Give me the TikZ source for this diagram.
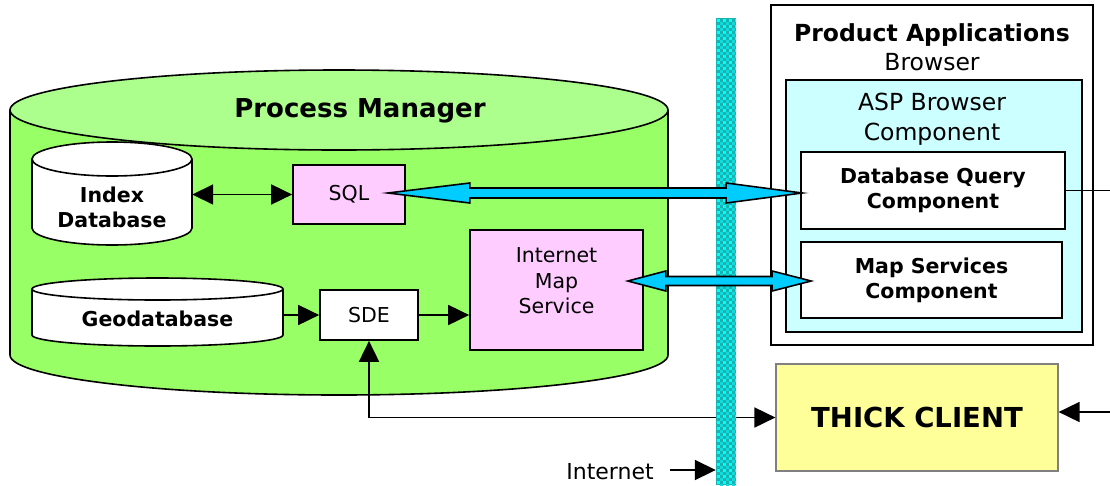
\documentclass[tikz,border=0pt]{standalone}
\usepackage{fontspec}
\setmainfont{DejaVu Sans}
\usetikzlibrary{calc,arrows.meta}
\definecolor{bodyg}{RGB}{153,255,102}
\definecolor{topg}{RGB}{172,255,140}
\definecolor{pinkbox}{RGB}{255,204,255}
\definecolor{aspcyan}{RGB}{204,255,255}
\definecolor{thickyel}{RGB}{255,255,153}
\definecolor{fatcyan}{RGB}{0,204,255}
\definecolor{fwbase}{RGB}{0,255,255}
\definecolor{fwdots}{RGB}{30,175,175}
\definecolor{thickborder}{RGB}{128,128,128}
\tikzset{
  outl/.style={draw=black,line width=1.7pt},
  box/.style={outl,rectangle,inner sep=0pt,align=center},
  arr/.style={line width=1.8pt,-{Triangle[length=21pt,width=20pt]}},
  arrboth/.style={line width=1.8pt,{Triangle[length=21pt,width=20pt]}-{Triangle[length=21pt,width=20pt]}},
  fat/.style={draw=black,line width=1.6pt,fill=fatcyan,line join=miter},
}
\begin{document}
\begin{tikzpicture}[x=1pt,y=-1pt]
\useasboundingbox (0,0) rectangle (1110,485);

% big cylinder (Process Manager)
\fill[bodyg] (10,110) -- (10,355) arc[start angle=180,end angle=360,x radius=329pt,y radius=40pt] -- (668,110) -- cycle;
\draw[line width=1.6pt] (10,110) -- (10,355) arc[start angle=180,end angle=360,x radius=329pt,y radius=40pt] -- (668,110);
\filldraw[fill=topg,line width=1.6pt] (339,110) ellipse[x radius=329pt,y radius=40pt];
\node[font=\bfseries\fontsize{26}{30}\selectfont] (pm) at (360,111) {Process Manager};

% Index Database cylinder
\filldraw[fill=white,line width=1.6pt] (32,159) -- (32,228) arc[start angle=180,end angle=360,x radius=80pt,y radius=17pt] -- (192,159);
\filldraw[fill=white,line width=1.6pt] (112,159) ellipse[x radius=80pt,y radius=17pt];
\node[align=center,inner sep=0pt,minimum width=160pt,font=\bfseries\fontsize{20.5}{25}\selectfont] (idx) at (112,207) {Index\\Database};

% Geodatabase cylinder
\filldraw[fill=white,line width=1.6pt] (32,289) -- (32,335) arc[start angle=180,end angle=360,x radius=125.5pt,y radius=11pt] -- (283,289);
\filldraw[fill=white,line width=1.6pt] (157.5,289) ellipse[x radius=125.5pt,y radius=11pt];
\node[inner sep=0pt,minimum width=251pt,font=\bfseries\fontsize{20.5}{25}\selectfont] (geo) at (157.5,319) {Geodatabase};

% boxes in process manager
\node[box,fill=pinkbox,minimum width=112pt,minimum height=59pt,font=\fontsize{20.5}{25}\selectfont] (sql) at (349,194.5) {SQL};
\node[box,fill=white,minimum width=98pt,minimum height=50pt,font=\fontsize{20.5}{25}\selectfont] (sde) at (369,315) {SDE};
\node[box,fill=pinkbox,minimum width=173pt,minimum height=120pt] (ims) at (556.5,290) {};
\node[align=center,inner sep=0pt,font=\fontsize{20.5}{25.5}\selectfont] (imst) at (556.5,281) {Internet\\Map\\Service};

% Product applications
\node[box,fill=white,line width=2pt,minimum width=322pt,minimum height=340pt] (prod) at (932,175) {};
\node[align=center,inner sep=0pt,font=\fontsize{23.5}{29}\selectfont] (prodt) at (932,47) {\textbf{Product Applications}\\Browser};
\node[box,fill=aspcyan,line width=2pt,minimum width=296pt,minimum height=252pt] (asp) at (934,206) {};
\node[align=center,inner sep=0pt,font=\fontsize{23.5}{30}\selectfont] (aspt) at (932,119) {ASP Browser\\Component};
\node[box,fill=white,minimum width=264pt,minimum height=77pt,font=\bfseries\fontsize{20.5}{25}\selectfont] (dbq) at (933,190.5) {Database Query\\Component};
\node[box,fill=white,minimum width=261pt,minimum height=76pt,font=\bfseries\fontsize{20.5}{25}\selectfont] (msc) at (931.5,280) {Map Services\\Component};

% thick client
\node[rectangle,inner sep=0pt,draw=thickborder,line width=1.2pt,fill=thickyel,minimum width=282pt,minimum height=107pt,font=\bfseries\fontsize{27.5}{32}\selectfont] (thick) at (917,417.5) {THICK CLIENT};

% connectors
\draw[arrboth] (sql.west -| idx.east) -- (sql.west);
\draw[arr] (sde.west -| geo.east) -- (sde.west);
\draw[arr] (sde.east) -- (sde.east -| ims.west);
\draw[arrboth] (sde.south) |- (thick.west);
\coordinate (rin) at (1110,412);
\draw[arr] (rin) -- (rin -| thick.east);
\coordinate (rout) at (1110,190.5);
\draw[line width=1.5pt] (dbq.east) -- (rout);

% firewall (checkered)
\node[rectangle,inner sep=0pt,minimum width=20pt,minimum height=467pt,fill=fwdots] (fw) at (726,251.5) {};
\begin{scope}
\clip (fw.north west) rectangle (fw.south east);
\foreach \j in {0,...,78} {
  \foreach \i in {0,...,3} {
    \fill[fwbase] ($(fw.north west)+(\i*6+1.5,\j*6+1.5)$) rectangle ++(3,3);
    \fill[fwbase!55!fwdots] ($(fw.north west)+(\i*6+4.5,\j*6+4.5)$) rectangle ++(3,3);
  }
}
\end{scope}

% Internet label
\node[inner sep=0pt,font=\fontsize{22}{26}\selectfont] (inet) at (610,472) {Internet};
\coordinate (inetstart) at (670,470);
\draw[arr] (inetstart) -- (inetstart -| fw.west);

% fat cyan double arrows
\coordinate (a1) at ($(sql.east)+(-18,-1.5)$);
\coordinate (b1) at ($(dbq.west)+(2,2.5)$);
\draw[fat] (a1) -- ++(82,-10) -- ++(0,5) -- ($(b1)+(-76,-5)$) -- ++(0,-5) -- (b1) -- ++(-76,10) -- ++(0,-5) -- ($(a1)+(82,5)$) -- ++(0,5) -- cycle;
\coordinate (a2) at ($(ims.east)+(-16,-9)$);
\coordinate (b2) at ($(msc.west)+(11,1)$);
\draw[fat] (a2) -- ++(38,-10) -- ++(0,5.5) -- ($(b2)+(-39,-4.5)$) -- ++(0,-5.5) -- (b2) -- ++(-39,10) -- ++(0,-5.5) -- ($(a2)+(38,4.5)$) -- ++(0,5.5) -- cycle;
\end{tikzpicture}
\end{document}
